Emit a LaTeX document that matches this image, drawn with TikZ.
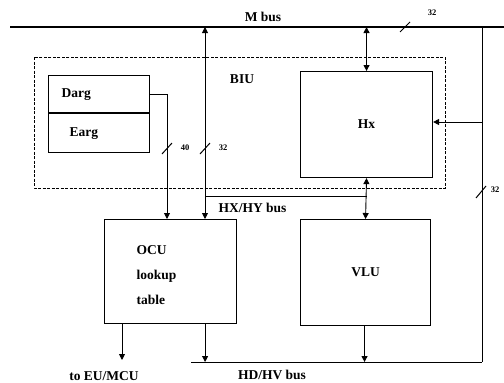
\documentclass[tikz,border=0pt]{standalone}
\usepackage{fontspec}
\setmainfont{Liberation Serif}
\usetikzlibrary{arrows.meta,positioning}

\tikzset{
  unit/.style={draw, line width=1.1pt, minimum width=#1, inner sep=0pt},
  lbl/.style={font=\bfseries\fontsize{13.5}{15}\selectfont},
  width/.style={font=\bfseries\fontsize{8.5}{9}\selectfont},
  wire/.style={line width=0.9pt},
  tip/.style={-{Triangle[length=6pt,width=6pt]}},
  tips/.style={{Triangle[length=6pt,width=6pt]}-{Triangle[length=6pt,width=6pt]}},
  slash/.style={line width=1pt}
}

\begin{document}
\begin{tikzpicture}[x=1pt,y=-1pt]
\useasboundingbox (0,0) rectangle (504,383);

% --- M bus ---
\coordinate (mL) at (10,27);
\coordinate (mR) at (504,27);
\draw[line width=2.4pt] (mL) -- (mR);
\node[lbl] (mlab) at (263,17) {M bus};
\draw[slash] (400,32) -- (410,22);
\node[width] (mw) at (432,13) {32};

% --- BIU ---
\draw[dashed, line width=1pt, dash pattern=on 3pt off 1.5pt] (34,57) rectangle (445,188);
\node[lbl] (biu) at (242,79) {BIU};

\node[unit=101pt, minimum height=77pt, anchor=north west] (arg) at (48,75) {};
\draw[line width=1.1pt] ([yshift=-38pt]arg.north west) coordinate (div) -- (div -| arg.east);
\node[lbl, anchor=west] (darg) at (58,95) {Darg};
\node[lbl, anchor=west] (earg) at (66,134) {Earg};

\node[unit=132pt, minimum height=106pt, anchor=north west] (hx) at (300,71) {};
\node[lbl] at (hx.center) {Hx};

% --- lower units ---
\node[unit=132pt, minimum height=104pt, anchor=north west] (ocu) at (104,219) {};
\node[lbl, anchor=west] (ocu1) at (133,250) {OCU};
\node[lbl, anchor=west] (ocu2) at (133,276) {lookup};
\node[lbl, anchor=west] (ocu3) at (133,300) {table};

\node[unit=130pt, minimum height=106pt, anchor=north west] (vlu) at (300,219) {};
\node[lbl] at (vlu.center) {VLU};

% --- Darg to OCU ---
\coordinate (dturn) at (167,94);
\draw[wire, tip] (arg.east |- dturn) -- (dturn) -- (dturn |- ocu.north);
\draw[slash] (162,154) -- (172,143);
\node[width] (dw) at (185,148) {40};

% --- M bus to OCU, HX/HY bus ---
\coordinate (mx) at (205,27);
\coordinate (hxy) at (205,196);
\draw[wire, tips] (mx) -- (mx |- ocu.north);
\draw[slash] (200,154) -- (210,143);
\node[width] (xw) at (223,148) {32};
\draw[wire] (hxy) -- (hx.south |- hxy);
\node[lbl, anchor=west] (hxylab) at (215,208) {HX/HY bus};
\draw[wire, tips] (hx.south) -- (vlu.north);
\draw[wire, tips] (hx.north |- mR) -- (hx.north);

% --- right feed to Hx ---
\coordinate (rtop) at (482,27);
\coordinate (rbot) at (482,362);
\draw[wire] (rtop) -- (rbot);
\draw[wire, tip] (rtop |- 0,122) -- (hx.east |- 0,122);
\draw[slash] (476,198) -- (486,186);
\node[width, anchor=east] (rw) at (503,190) {32};

% --- HD/HV bus ---
\coordinate (hdL) at (191,362);
\draw[wire] (hdL) -- (rbot);
\draw[wire, tip] ([xshift=-32pt]ocu.south east) -- ([xshift=-32pt]ocu.south east |- hdL);
\draw[wire, tip] ([xshift=-1pt]vlu.south) -- ([xshift=-1pt]vlu.south |- hdL);
\node[lbl] (hdlab) at (272,375) {HD/HV bus};

% --- out to EU/MCU ---
\coordinate (eu) at (122,360);
\draw[wire, tip] (ocu.south -| eu) -- (eu);
\node[lbl] (eulab) at (104,376) {to EU/MCU};
\end{tikzpicture}
\end{document}
